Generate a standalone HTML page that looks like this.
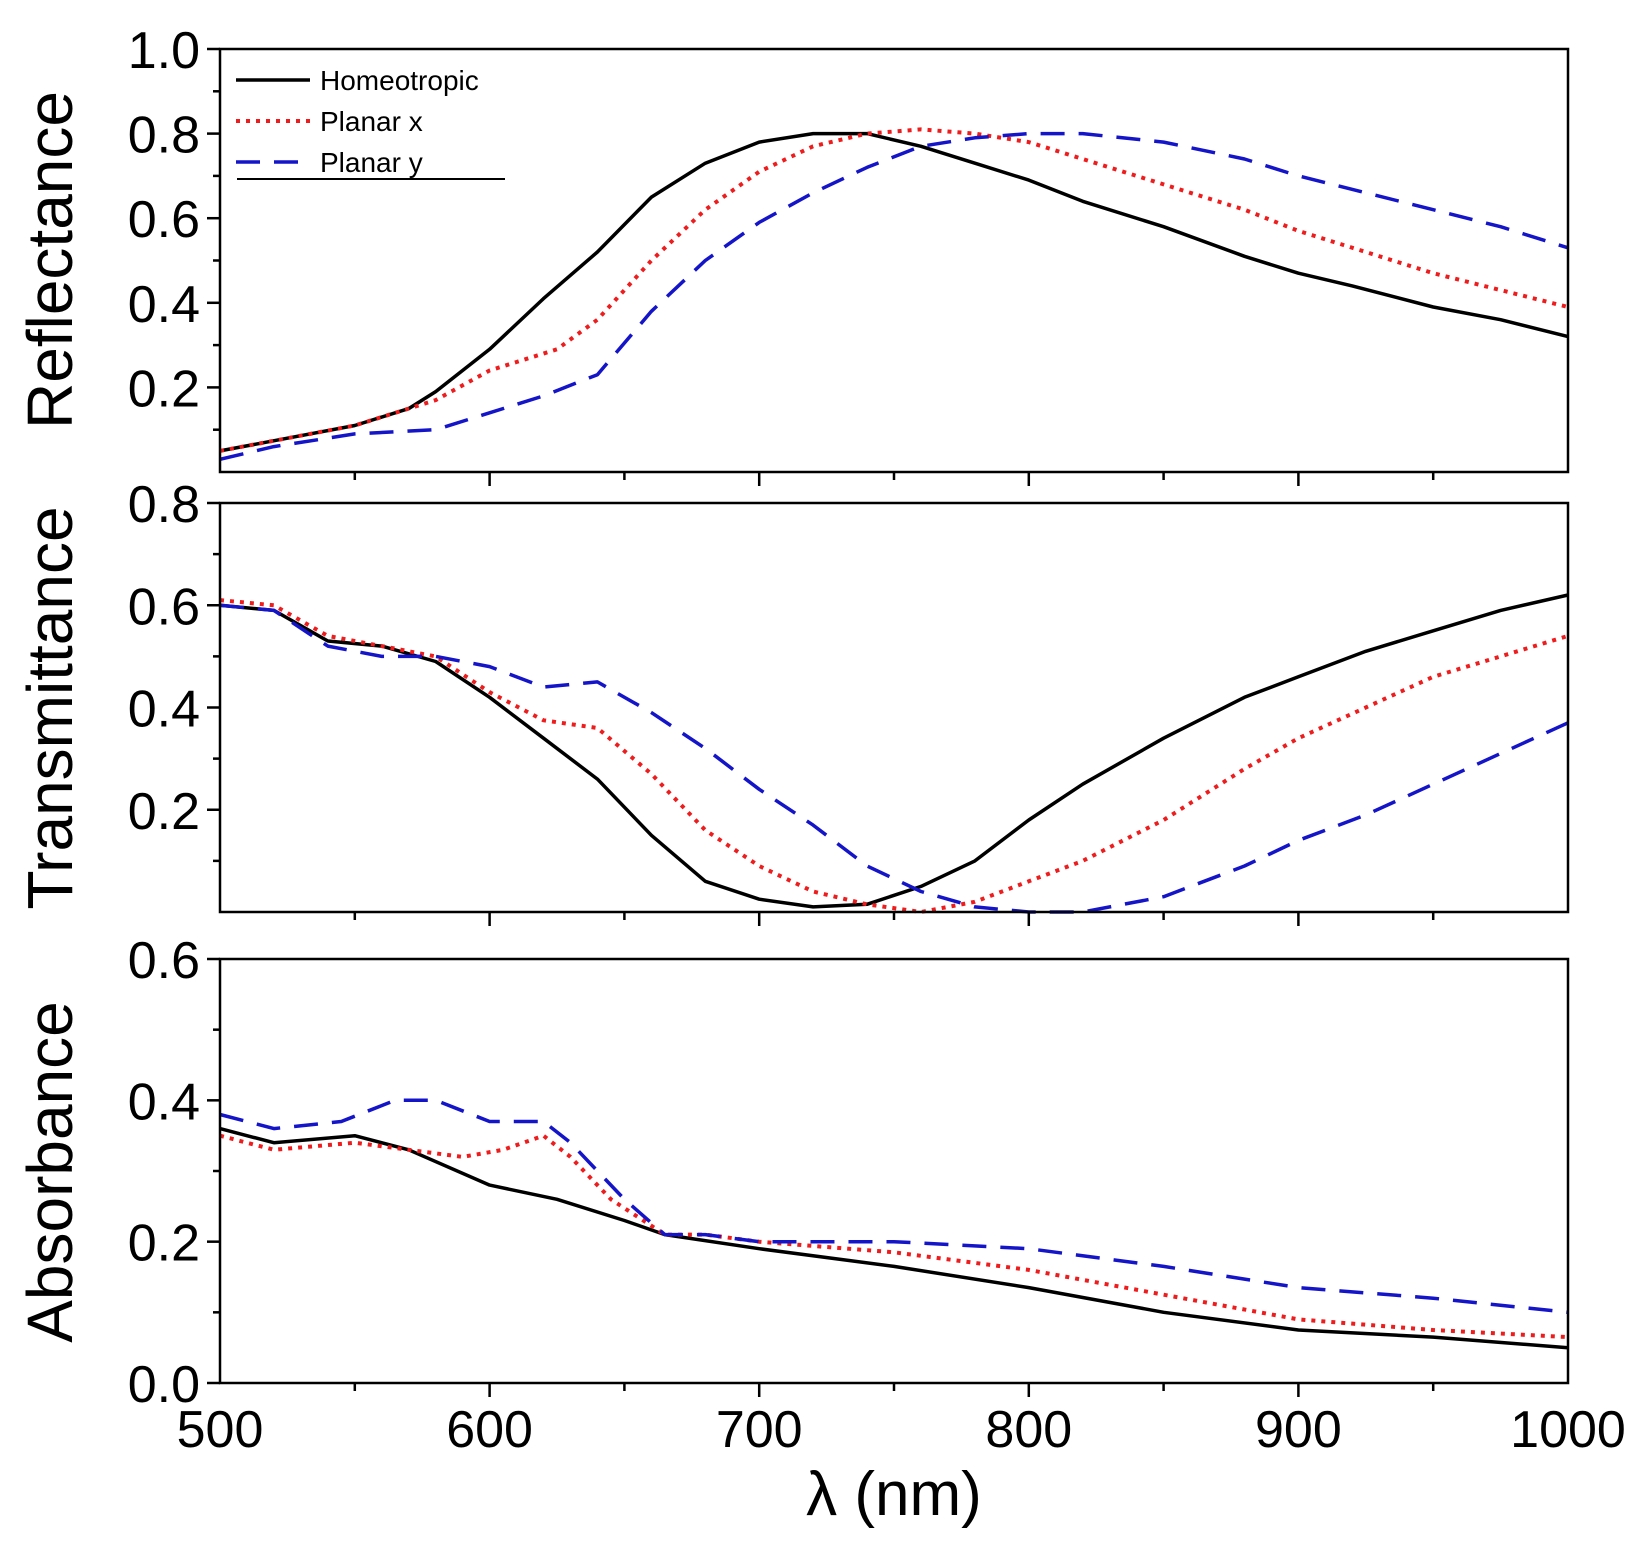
<!DOCTYPE html>
<html><head><meta charset="utf-8"><style>
html,body{margin:0;padding:0;background:#fff}
svg{display:block}
text{font-family:"Liberation Sans",Arial,sans-serif;fill:#000}
</style></head><body>
<svg id="chart" width="1642" height="1544" viewBox="0 0 1642 1544" xmlns="http://www.w3.org/2000/svg"></svg>
<script>
const xTicks=[500,600,700,800,900,1000];
const wl_R_h=[500,525,550,570,580,600,620,640,660,680,700,720,740,760,780,800,820,850,880,900,920,950,975,1000];
const R_h=[0.05,0.08,0.11,0.15,0.19,0.29,0.41,0.52,0.65,0.73,0.78,0.80,0.80,0.77,0.73,0.69,0.64,0.58,0.51,0.47,0.44,0.39,0.36,0.32];
const wl_R_x=[500,550,580,600,610,625,640,660,680,700,720,740,760,780,800,820,850,880,900,925,950,975,1000];
const R_x=[0.05,0.11,0.17,0.24,0.26,0.29,0.36,0.50,0.62,0.71,0.77,0.80,0.81,0.80,0.78,0.74,0.68,0.62,0.57,0.52,0.47,0.43,0.39];
const wl_R_y=[500,520,550,580,600,620,640,660,680,700,720,740,760,780,800,820,850,880,900,925,950,975,1000];
const R_y=[0.03,0.06,0.09,0.10,0.14,0.18,0.23,0.38,0.50,0.59,0.66,0.72,0.77,0.79,0.80,0.80,0.78,0.74,0.70,0.66,0.62,0.58,0.53];
const wl_T=[500,520,540,560,580,600,620,640,660,680,700,720,740,760,780,800,820,850,880,900,925,950,975,1000];
const T_h=[0.60,0.59,0.53,0.52,0.49,0.42,0.34,0.26,0.15,0.06,0.025,0.01,0.015,0.05,0.10,0.18,0.25,0.34,0.42,0.46,0.51,0.55,0.59,0.62];
const T_x=[0.61,0.60,0.54,0.52,0.50,0.43,0.375,0.36,0.27,0.16,0.09,0.04,0.015,0.0,0.02,0.06,0.10,0.18,0.28,0.34,0.40,0.46,0.50,0.54];
const T_y=[0.60,0.59,0.52,0.50,0.50,0.48,0.44,0.45,0.39,0.32,0.24,0.17,0.09,0.04,0.01,0.0,0.0,0.03,0.09,0.14,0.19,0.25,0.31,0.37];
const wl_A_h=[500,520,550,570,600,625,650,665,700,750,800,850,900,950,1000];
const A_h=[0.36,0.34,0.35,0.33,0.28,0.26,0.23,0.21,0.19,0.165,0.135,0.10,0.075,0.065,0.05];
const wl_A_x=[500,520,550,570,590,605,620,630,645,665,680,700,750,800,850,900,950,1000];
const A_x=[0.35,0.33,0.34,0.33,0.32,0.33,0.35,0.32,0.26,0.21,0.21,0.20,0.185,0.16,0.125,0.09,0.075,0.065];
const wl_A_y=[500,520,545,565,580,600,620,630,650,665,680,700,750,800,850,900,950,1000];
const A_y=[0.38,0.36,0.37,0.40,0.40,0.37,0.37,0.34,0.26,0.21,0.21,0.20,0.20,0.19,0.165,0.135,0.12,0.10];

const NS="http://www.w3.org/2000/svg";
const svg=document.getElementById('chart');
function mk(tag,attrs,parent){const e=document.createElementNS(NS,tag);for(const k in attrs)e.setAttribute(k,attrs[k]);(parent||svg).appendChild(e);return e;}
const X0=220,X1=1568;
function xs(v){return X0+(v-500)/500*(X1-X0);}
const panels=[
 {name:'reflectance',top:49,bot:472,max:1.0,min:0,major:[0.2,0.4,0.6,0.8,1.0],minor:[0.1,0.3,0.5,0.7,0.9],title:'Reflectance',tcy:260,
  series:[[wl_R_h,R_h],[wl_R_x,R_x],[wl_R_y,R_y]]},
 {name:'transmittance',top:503,bot:912,max:0.8,min:0,major:[0.2,0.4,0.6,0.8],minor:[0.1,0.3,0.5,0.7],title:'Transmittance',tcy:708,
  series:[[wl_T,T_h],[wl_T,T_x],[wl_T,T_y]]},
 {name:'absorbance',top:959,bot:1383,max:0.6,min:0,major:[0.0,0.2,0.4,0.6],minor:[0.1,0.3,0.5],title:'Absorbance',tcy:1172,
  series:[[wl_A_h,A_h],[wl_A_x,A_x],[wl_A_y,A_y]]}
];
const styles=[
 {stroke:'#000','stroke-width':3.5,fill:'none'},
 {stroke:'#ee1c1c','stroke-width':4,fill:'none','stroke-dasharray':'4 6'},
 {stroke:'#1414c8','stroke-width':3.5,fill:'none','stroke-dasharray':'24 14'}
];
const sNames=['homeotropic','planar-x','planar-y'];
panels.forEach((p,pi)=>{
  const g=mk('g',{});
  
  
  const ys=v=>p.bot-(v-p.min)/(p.max-p.min)*(p.bot-p.top);
  p.series.forEach((s,si)=>{
    let d='';
    s[0].forEach((w,i)=>{d+=(i?'L':'M')+xs(w).toFixed(1)+','+ys(s[1][i]).toFixed(1);});
    const path=mk('path',Object.assign({d:d,'stroke-linejoin':'round'},styles[si]),g);
    
    
  });
  const frame=mk('rect',{x:X0,y:p.top,width:X1-X0,height:p.bot-p.top,fill:'none',stroke:'#000','stroke-width':2.5},g);
  
  
  p.major.forEach(v=>{
    mk('line',{x1:X0-13,x2:X0,y1:ys(v),y2:ys(v),stroke:'#000','stroke-width':2.5},g);
    const t=mk('text',{x:X0-20,y:ys(v)+19,'text-anchor':'end','font-size':52},g);
    t.textContent=v.toFixed(1);
    
    
  });
  p.minor.forEach(v=>{mk('line',{x1:X0-7,x2:X0,y1:ys(v),y2:ys(v),stroke:'#000','stroke-width':2.5},g);});
  for(let w=550;w<1000;w+=50){
    const len=(w%100===0)?14:8;
    mk('line',{x1:xs(w),x2:xs(w),y1:p.bot,y2:p.bot+len,stroke:'#000','stroke-width':2.5},g);
  }
  const tt=mk('text',{x:0,y:0,'text-anchor':'middle','font-size':64,transform:'translate(72,'+p.tcy+') rotate(-90)'},g);
  tt.textContent=p.title;
  
  
});
xTicks.forEach(v=>{
  const t=mk('text',{x:xs(v),y:1447,'text-anchor':'middle','font-size':52});
  t.textContent=String(v);
  
  
});
const xt=mk('text',{x:894,y:1515,'text-anchor':'middle','font-size':62});
xt.textContent='λ (nm)';


const lg=mk('g',{});


const labels=['Homeotropic','Planar x','Planar y'];
const ly=[80,121,162];
labels.forEach((l,i)=>{
  mk('line',Object.assign({x1:236,x2:310,y1:ly[i],y2:ly[i]},styles[i]),lg);
  const t=mk('text',{x:320,y:ly[i]+10,'font-size':28},lg);
  t.textContent=l;
  
  
});
mk('line',{x1:237,x2:505,y1:179,y2:179,stroke:'#000','stroke-width':2},lg);
</script>
</body></html>
